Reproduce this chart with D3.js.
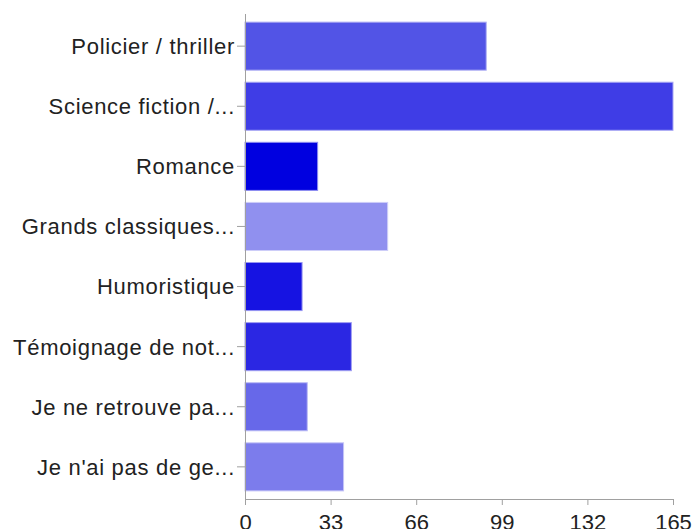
<!DOCTYPE html>
<html>
<head>
<meta charset="utf-8">
<script src="https://cdn.jsdelivr.net/npm/d3@7"></script>
<style>
  body { margin: 0; background: #fff; }
  text { font-family: "Liberation Sans", Arial, Helvetica, sans-serif; fill: #222; }
</style>
</head>
<body>
<svg id="chart" width="695" height="529"></svg>
<script>
let categories = ['Policier / thriller', 'Science fiction /...', 'Romance', 'Grands classiques...',
  'Humoristique', 'Témoignage de not...', 'Je ne retrouve pa...', "Je n'ai pas de ge..."]
let values = [93, 165, 28, 55, 22, 41, 24, 38]
let ticks = [0, 33, 66, 99, 132, 165]
let colors = ['#5254e6', '#3f3de6', '#0000e0', '#9090ef', '#1613e2', '#2b27e3', '#6768e9', '#7c7cec']

let svg = d3.select('#chart')
let plotLeft = 245, plotRight = 673, plotTop = 14, plotBottom = 499

let x = d3.scaleLinear().domain([0, 165]).range([plotLeft, plotRight])
let y = d3.scaleBand().domain(categories).range([plotTop, plotBottom]).paddingInner(0.2).paddingOuter(0.135)
let color = d3.scaleOrdinal(colors).domain(categories)

let data = categories.map(function (c, i) { return { cat: c, value: values[i] } })

svg.append('g')
  .selectAll('rect')
  .data(data)
  .enter().append('rect')
  .attr('x', x(0))
  .attr('y', function (d) { return y(d.cat) })
  .attr('width', function (d) { return x(d.value) - x(0) })
  .attr('height', y.bandwidth())
  .attr('fill', function (d) { return color(d.cat) })
  .attr('stroke', function (d) { return d3.interpolateRgb(color(d.cat), '#fff')(0.55) })
  .attr('stroke-width', 1)

// y axis
let yAxis = svg.append('g')
  .attr('transform', 'translate(' + plotLeft + ',0)')
  .call(d3.axisLeft(y).tickSize(8).tickPadding(2).tickSizeOuter(0))
yAxis.select('.domain').attr('stroke', '#a0a0a0').attr('d', 'M0.5,' + plotTop + 'V' + plotBottom)
yAxis.selectAll('.tick line').attr('stroke', '#a0a0a0')
yAxis.selectAll('.tick text')
  .attr('font-size', 22).attr('font-family', null).attr('fill', '#222')
  .attr('letter-spacing', 0.7).attr('dy', '0.36em')

// x axis
let xAxis = svg.append('g')
  .attr('transform', 'translate(0,' + plotBottom + ')')
  .call(d3.axisBottom(x).tickValues(ticks).tickSize(6).tickPadding(9).tickSizeOuter(0))
xAxis.select('.domain').attr('stroke', '#a0a0a0')
xAxis.selectAll('.tick line').attr('stroke', '#a0a0a0')
xAxis.selectAll('.tick text').attr('font-size', 22).attr('font-family', null).attr('fill', '#222')
</script>
</body>
</html>
